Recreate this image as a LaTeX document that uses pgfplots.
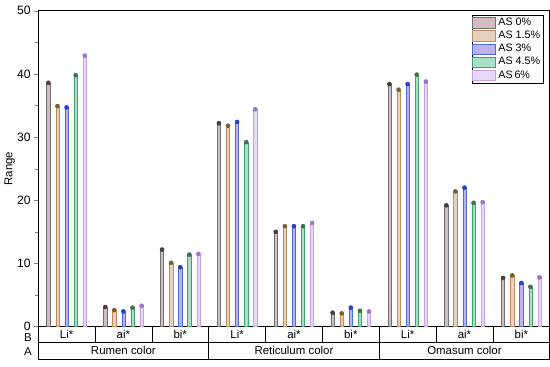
\documentclass[border=0pt]{standalone}
\usepackage{pgfplots}
\pgfplotsset{compat=1.18}
\usepackage{fontspec}
\setmainfont{Liberation Sans}
\definecolor{d0}{HTML}{707070}\definecolor{f0}{HTML}{D4BCC4}\definecolor{m0}{HTML}{404040}
\definecolor{d1}{HTML}{C08A60}\definecolor{f1}{HTML}{E6D2BC}\definecolor{m1}{HTML}{7A6030}
\definecolor{d2}{HTML}{4A6EE0}\definecolor{f2}{HTML}{C0B0F0}\definecolor{m2}{HTML}{2040D0}
\definecolor{d3}{HTML}{40A070}\definecolor{f3}{HTML}{A8E0C8}\definecolor{m3}{HTML}{407050}
\definecolor{d4}{HTML}{C8A0E8}\definecolor{f4}{HTML}{E8D8F8}\definecolor{m4}{HTML}{A070D0}
\begin{document}
\begin{tikzpicture}
\begin{axis}[
  scale only axis, width=380.25pt, height=234.75pt,
  xmin=0, xmax=9, ymin=0, ymax=50,
  ytick={0,10,...,50}, minor y tick num=1,
  ytick pos=left, tick align=outside,
  major tick length=3pt, minor tick length=2pt,
  xtick=\empty,
  yticklabel style={font=\fontsize{9}{10}\selectfont, xshift=1pt},
  /pgf/number format/assume math mode=true,
  ylabel={Range}, ylabel style={font=\fontsize{8.5}{10}\selectfont, yshift=-5pt},
  clip=false,
  legend style={at={(0.988,0.988)}, anchor=north east, draw=black, fill=white,
    font=\fontsize{8}{9}\selectfont, inner sep=0.3pt, row sep=-1.3pt,
    cells={anchor=west}},
  legend image code/.code={\draw[#1, mark=none] (0pt,-3.8pt) rectangle (17pt,3.8pt);},
  bars/.style={ybar, bar width=2.4pt, bar shift=0pt, mark=*, mark size=1.5pt},
]
\addplot[bars, draw=d0, fill=f0, mark options={fill=m0, draw=m0}, x filter/.expression={x-0.32}] coordinates {
 (0.5,38.6) (1.5,3.1) (2.5,12.2) (3.5,32.2) (4.5,15.0) (5.5,2.2) (6.5,38.4) (7.5,19.2) (8.5,7.7)};
\addplot[bars, draw=d1, fill=f1, mark options={fill=m1, draw=m1}, x filter/.expression={x-0.16}] coordinates {
 (0.5,34.9) (1.5,2.6) (2.5,10.1) (3.5,31.8) (4.5,15.9) (5.5,2.1) (6.5,37.5) (7.5,21.4) (8.5,8.1)};
\addplot[bars, draw=d2, fill=f2, mark options={fill=m2, draw=m2}] coordinates {
 (0.5,34.7) (1.5,2.4) (2.5,9.4) (3.5,32.4) (4.5,15.9) (5.5,3.0) (6.5,38.4) (7.5,22.0) (8.5,6.9)};
\addplot[bars, draw=d3, fill=f3, mark options={fill=m3, draw=m3}, x filter/.expression={x+0.16}] coordinates {
 (0.5,39.8) (1.5,3.0) (2.5,11.4) (3.5,29.2) (4.5,15.9) (5.5,2.5) (6.5,39.9) (7.5,19.6) (8.5,6.3)};
\addplot[bars, draw=d4, fill=f4, mark options={fill=m4, draw=m4}, x filter/.expression={x+0.32}] coordinates {
 (0.5,42.9) (1.5,3.3) (2.5,11.5) (3.5,34.4) (4.5,16.4) (5.5,2.4) (6.5,38.8) (7.5,19.7) (8.5,7.8)};
\legend{AS 0\%, AS 1.5\%, AS 3\%, AS 4.5\%, AS\,6\%}
% category table below the axis
\draw (axis cs:0,0) -- ([yshift=-24pt]axis cs:0,0) -- ([yshift=-24pt]axis cs:9,0) -- (axis cs:9,0);
\draw ([yshift=-12pt]axis cs:0,0) -- ([yshift=-12pt]axis cs:9,0);
\draw (axis cs:1,0) -- ([yshift=-12pt]axis cs:1,0);
\draw (axis cs:2,0) -- ([yshift=-12pt]axis cs:2,0);
\draw (axis cs:4,0) -- ([yshift=-12pt]axis cs:4,0);
\draw (axis cs:5,0) -- ([yshift=-12pt]axis cs:5,0);
\draw (axis cs:7,0) -- ([yshift=-12pt]axis cs:7,0);
\draw (axis cs:8,0) -- ([yshift=-12pt]axis cs:8,0);
\draw (axis cs:3,0) -- ([yshift=-24pt]axis cs:3,0);
\draw (axis cs:6,0) -- ([yshift=-24pt]axis cs:6,0);
\node[font=\fontsize{8.5}{9}\selectfont] at ([yshift=-6pt]axis cs:0.5,0) {Li*};
\node[font=\fontsize{8.5}{9}\selectfont] at ([yshift=-6pt]axis cs:1.5,0) {ai*};
\node[font=\fontsize{8.5}{9}\selectfont] at ([yshift=-6pt]axis cs:2.5,0) {bi*};
\node[font=\fontsize{8.5}{9}\selectfont] at ([yshift=-6pt]axis cs:3.5,0) {Li*};
\node[font=\fontsize{8.5}{9}\selectfont] at ([yshift=-6pt]axis cs:4.5,0) {ai*};
\node[font=\fontsize{8.5}{9}\selectfont] at ([yshift=-6pt]axis cs:5.5,0) {bi*};
\node[font=\fontsize{8.5}{9}\selectfont] at ([yshift=-6pt]axis cs:6.5,0) {Li*};
\node[font=\fontsize{8.5}{9}\selectfont] at ([yshift=-6pt]axis cs:7.5,0) {ai*};
\node[font=\fontsize{8.5}{9}\selectfont] at ([yshift=-6pt]axis cs:8.5,0) {bi*};
\node[font=\fontsize{8.5}{9}\selectfont] at ([yshift=-18pt]axis cs:1.5,0) {Rumen color};
\node[font=\fontsize{8.5}{9}\selectfont] at ([yshift=-18pt]axis cs:4.5,0) {Reticulum color};
\node[font=\fontsize{8.5}{9}\selectfont] at ([yshift=-18pt]axis cs:7.5,0) {Omasum color};
\node[font=\fontsize{8.5}{10}\selectfont, anchor=east, inner sep=0.5pt] at ([xshift=-4pt,yshift=-8pt]axis cs:0,0) {B};
\node[font=\fontsize{8.5}{10}\selectfont, anchor=east, inner sep=0.5pt] at ([xshift=-4pt,yshift=-18.5pt]axis cs:0,0) {A};
\path ([yshift=8pt]rel axis cs:0,1) -- ([yshift=-30pt]rel axis cs:0,0);
\end{axis}
\end{tikzpicture}
\end{document}
